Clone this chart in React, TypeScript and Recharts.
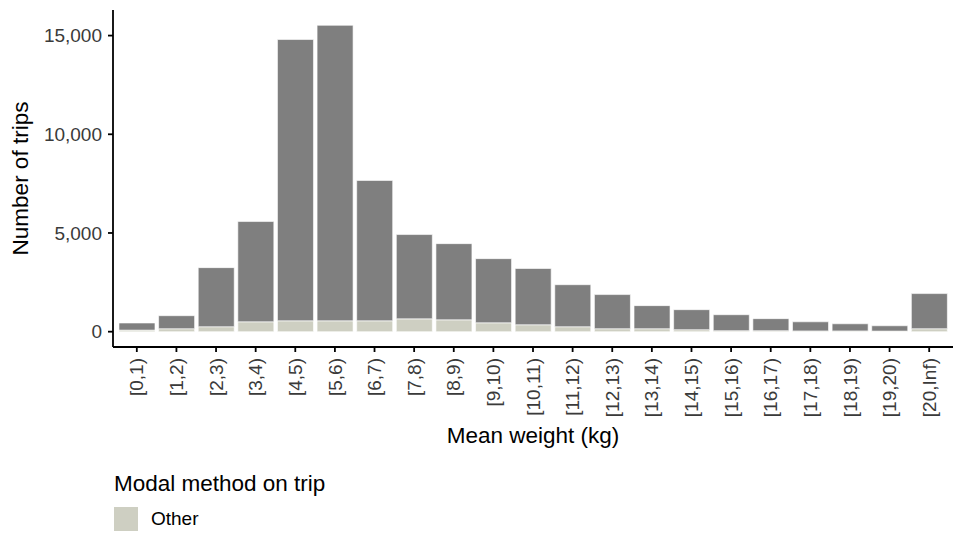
import React from 'react'
import { BarChart, Bar, XAxis, YAxis } from 'recharts'

const bins = [
  '[0,1)', '[1,2)', '[2,3)', '[3,4)', '[4,5)', '[5,6)', '[6,7)', '[7,8)', '[8,9)', '[9,10)', '[10,11)',
  '[11,12)', '[12,13)', '[13,14)', '[14,15)', '[15,16)', '[16,17)', '[17,18)', '[18,19)', '[19,20)', '[20,Inf)',
]
const otherTrips = [80, 150, 250, 500, 550, 550, 550, 650, 600, 450, 350, 250, 150, 150, 100, 50, 50, 40, 40, 30, 150]
const restTrips = [360, 660, 2995, 5080, 14250, 14970, 7110, 4270, 3860, 3250, 2850, 2130, 1730, 1170, 1015, 810, 610, 460, 360, 270, 1780]
const yTicks = [0, 5000, 10000, 15000]

const data = bins.map((bin, i) => ({ bin, other: otherTrips[i], rest: restTrips[i] }))
const maxTotal = Math.max(...data.map((d) => d.other + d.rest))
const yDomain = [-0.05 * maxTotal, 1.05 * maxTotal]

const FONT = '"Liberation Sans", Arial, Helvetica, sans-serif'
const TICK_COLOR = '#3a3a3a'
const OTHER_COLOR = '#cecfc2'
const REST_COLOR = '#7f7f7f'

function RotatedTick({ x, y, payload }: any) {
  return (
    <text
      x={x}
      y={y}
      transform={`rotate(-90 ${x} ${y})`}
      textAnchor="end"
      dy="0.35em"
      fontSize={19}
      fill={TICK_COLOR}
      fontFamily={FONT}
    >
      {payload.value}
    </text>
  )
}

function YTitle({ viewBox }: any) {
  const x = viewBox.x + 28
  const y = viewBox.y + viewBox.height / 2
  return (
    <text x={x} y={y} transform={`rotate(-90 ${x} ${y})`} textAnchor="middle" fontSize={22.5} fill="#000" fontFamily={FONT}>
      Number of trips
    </text>
  )
}

function XTitle({ viewBox }: any) {
  const x = viewBox.x + viewBox.width / 2
  const y = viewBox.y + 96
  return (
    <text x={x} y={y} textAnchor="middle" fontSize={22.5} fill="#000" fontFamily={FONT}>
      Mean weight (kg)
    </text>
  )
}

export default function App() {
  return (
    <div style={{ position: 'absolute', left: 0, top: 0, width: 953, height: 540, fontFamily: FONT, background: '#fff' }}>
      <BarChart
        width={953}
        height={540}
        data={data}
        margin={{ top: 10, right: 0, left: 0, bottom: 93 }}
        barCategoryGap="5%"
      >
        <XAxis
          dataKey="bin"
          interval={0}
          height={100}
          tickSize={5}
          tickMargin={6}
          padding={{ left: 4, right: 4 }}
          axisLine={{ stroke: '#000', strokeWidth: 1.8 }}
          tickLine={{ stroke: '#000', strokeWidth: 1.8 }}
          tick={<RotatedTick />}
          label={<XTitle />}
        />
        <YAxis
          width={113}
          type="number"
          domain={yDomain}
          allowDataOverflow
          ticks={yTicks}
          tickSize={5}
          tickMargin={6}
          tickFormatter={(v: number) => v.toLocaleString('en-US')}
          axisLine={{ stroke: '#000', strokeWidth: 1.8 }}
          tickLine={{ stroke: '#000', strokeWidth: 1.8 }}
          tick={{ fontSize: 19, fill: TICK_COLOR, fontFamily: FONT }}
          label={<YTitle />}
        />
        <Bar dataKey="other" name="Other" stackId="a" fill={OTHER_COLOR} stroke="#fff" strokeWidth={0.6} isAnimationActive={false} />
        <Bar dataKey="rest" name="Rest" stackId="a" fill={REST_COLOR} stroke="#fff" strokeWidth={0.6} legendType="none" isAnimationActive={false} />
      </BarChart>
      <div style={{ position: 'absolute', left: 114, top: 470, color: '#000' }}>
        <div style={{ fontSize: 22.5, lineHeight: '27px' }}>Modal method on trip</div>
        <div style={{ display: 'flex', alignItems: 'center', marginTop: 10 }}>
          <span style={{ display: 'inline-block', width: 24, height: 24, background: OTHER_COLOR }} />
          <span style={{ fontSize: 19, marginLeft: 13, color: '#000' }}>Other</span>
        </div>
      </div>
    </div>
  )
}
